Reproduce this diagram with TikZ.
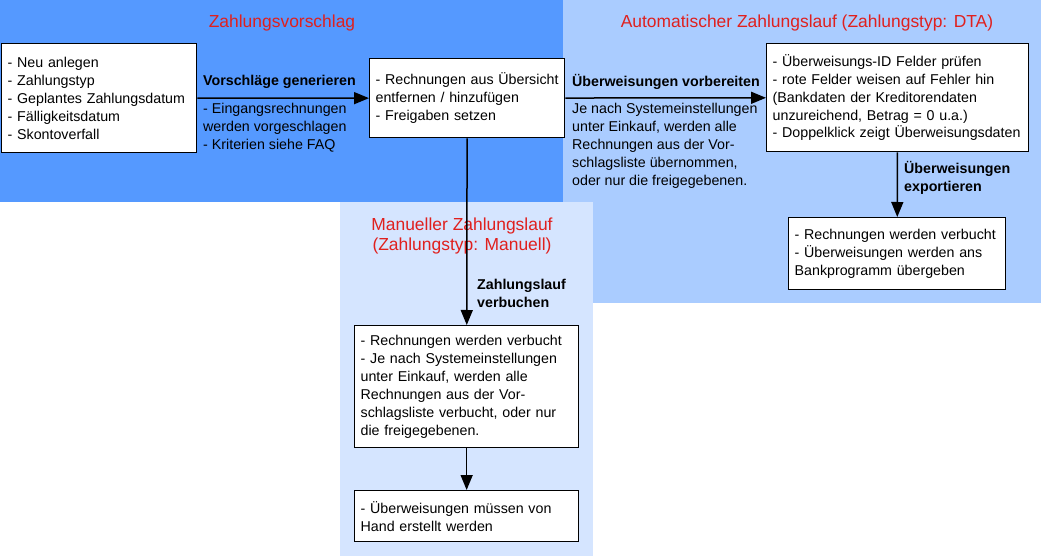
\documentclass[tikz,border=0pt]{standalone}
\usepackage{fontspec}
\setmainfont{Liberation Sans}
\usetikzlibrary{arrows.meta}
\definecolor{vorschlag}{HTML}{5599FF}
\definecolor{automatik}{HTML}{AACCFF}
\definecolor{manuell}{HTML}{D5E5FF}
\definecolor{titelrot}{HTML}{E0201E}
\tikzset{
  box/.style={draw, fill=white, line width=1.3bp, anchor=north west, align=left,
    inner xsep=6bp, inner ysep=5bp, font=\fontsize{14.3}{18}\selectfont},
  label/.style={inner sep=0pt, align=left, font=\fontsize{14.3}{18}\selectfont},
  fett/.style={label, font=\fontsize{14.3}{18}\selectfont\bfseries},
  titel/.style={inner sep=0pt, align=center, text=titelrot, font=\fontsize{17.5}{21}\selectfont},
  pfeil/.style={line width=1.5bp, -{Triangle[length=15bp,width=12bp]}}
}
\begin{document}
\begin{tikzpicture}[x=1bp,y=-1bp]
      \useasboundingbox (0,0) rectangle (1041,556);
      % Hintergruende
      \fill[automatik] (563,0) rectangle (1041,303);
      \fill[manuell] (340,202) rectangle (593,556);
      \fill[vorschlag] (0,0) rectangle (563,202);
      \node[titel] (T1) at (282,23) {Zahlungsvorschlag};
      \node[titel] (T2) at (807,23) {Automatischer Zahlungslauf (Zahlungstyp: DTA)};
      \node[titel] (T3) at (462,236) {Manueller Zahlungslauf\\(Zahlungstyp: Manuell)};
      % Kaesten
      \node[box, text width=183bp, minimum height=109bp] (A) at (1,43)
        {- Neu anlegen\\- Zahlungstyp\\- Geplantes Zahlungsdatum\\- Fälligkeitsdatum\\- Skontoverfall};
      \node[box, text width=183bp, minimum height=79bp] (B) at (369,58)
        {- Rechnungen aus Übersicht\\entfernen / hinzufügen\\- Freigaben setzen\\[2bp]};
      \node[box, text width=250bp, minimum height=108bp] (C) at (766,43)
        {- Überweisungs-ID Felder prüfen\\- rote Felder weisen auf Fehler hin\\(Bankdaten der Kreditorendaten\\unzureichend, Betrag = 0 u.a.)\\- Doppelklick zeigt Überweisungsdaten};
      \node[box, text width=205bp, minimum height=72bp] (D) at (788,217)
        {- Rechnungen werden verbucht\\- Überweisungen werden ans\\Bankprogramm übergeben};
      \node[box, text width=212bp, minimum height=122bp] (E) at (354,325)
        {- Rechnungen werden verbucht\\- Je nach Systemeinstellungen\\unter Einkauf, werden alle\\Rechnungen aus der Vor-\\schlagsliste verbucht, oder nur\\die freigegebenen.};
      \node[box, text width=212bp, minimum height=51bp] (F) at (354,490)
        {- Überweisungen müssen von\\Hand erstellt werden};
      % Beschriftungen
      \node[fett, anchor=west] (L1) at (203,82) {Vorschläge generieren};
      \node[label, anchor=north west] (L2) at (203,103) {- Eingangsrechnungen\\werden vorgeschlagen\\- Kriterien siehe FAQ};
      \node[fett, anchor=west] (L3) at (572,82) {Überweisungen vorbereiten};
      \node[label, anchor=north west] (L4) at (572,103) {Je nach Systemeinstellungen\\unter Einkauf, werden alle\\Rechnungen aus der Vor-\\schlagsliste übernommen,\\oder nur die freigegebenen.};
      \node[fett, anchor=west] (L5) at (477,293) {Zahlungslauf\\verbuchen};
      \node[fett, anchor=west] (L6) at (904,178) {Überweisungen\\exportieren};
      % Pfeile
      \draw[pfeil] (A) -- (B);
      \draw[pfeil] (B) -- (C);
      \draw[pfeil] (B) -- (E);
      \draw[pfeil] (E) -- (F);
      \draw[pfeil] (C) -- (D);
    \end{tikzpicture}
\end{document}
